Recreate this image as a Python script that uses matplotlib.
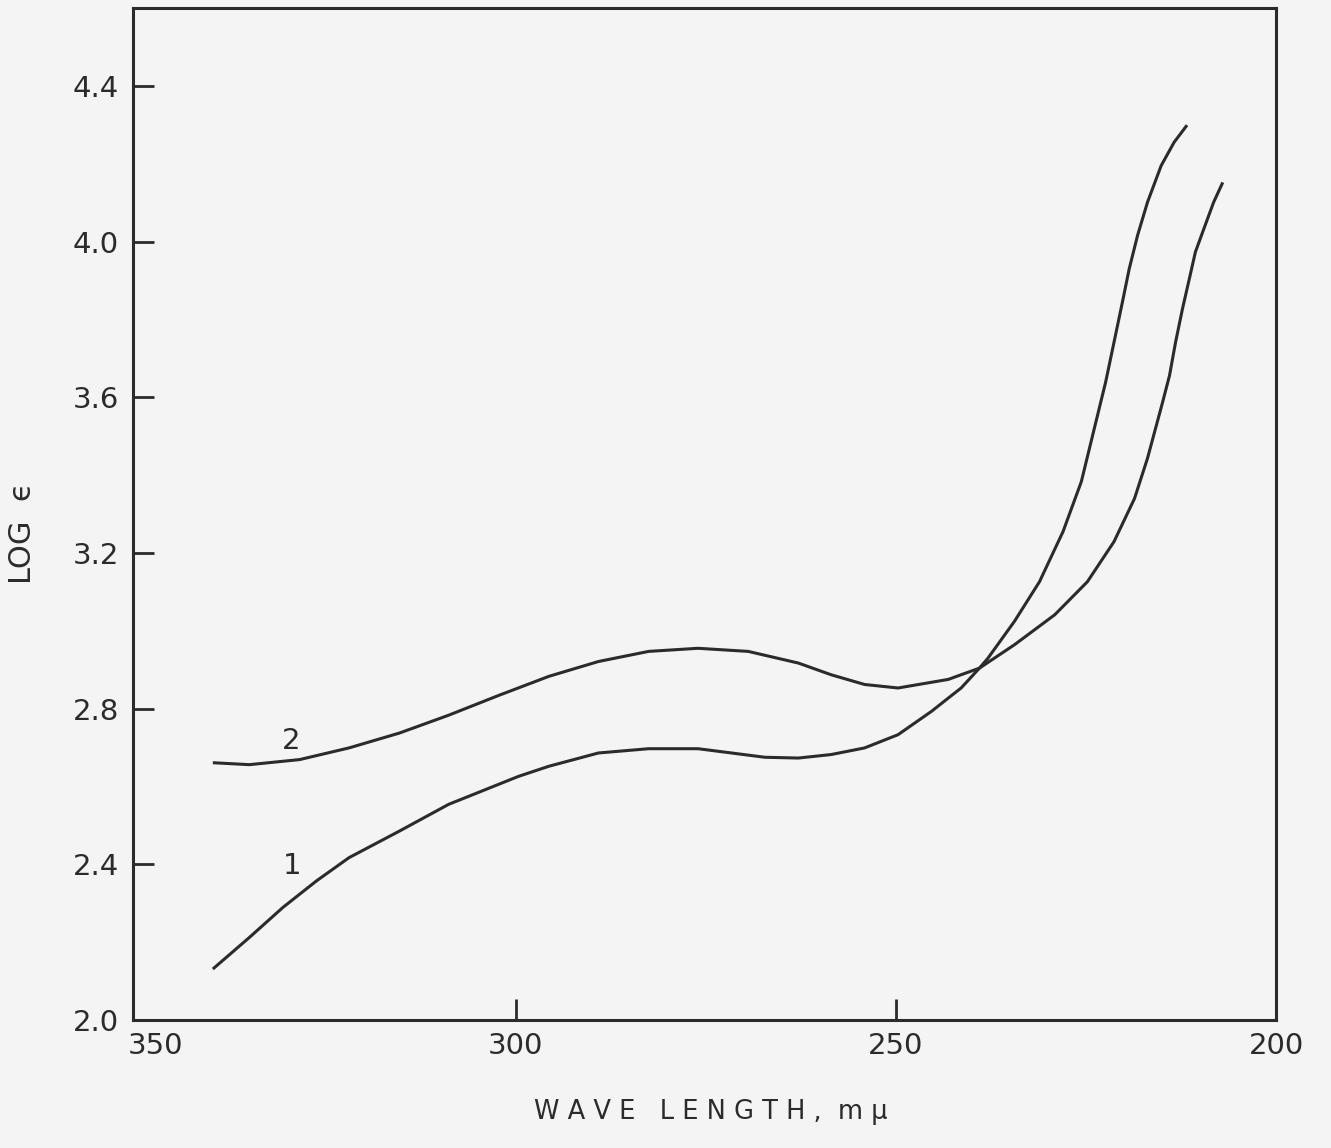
import numpy as np
import matplotlib
matplotlib.use("Agg")
import matplotlib.pyplot as plt
import matplotlib.transforms as mtransforms

# curve 1 : wave length (m mu) / log epsilon
wl_1 = [339.8, 335.0, 330.6, 326.2, 321.9, 315.3, 308.8, 299.6, 295.6, 289.1,
        282.5, 276.0, 271.6, 267.2, 262.8, 258.5, 254.1, 249.7, 245.3, 243.1,
        241.4, 239.0, 237.9, 234.4, 231.1, 228.0, 225.6, 224.0, 222.4, 221.1,
        220.2, 219.3, 218.2, 216.9, 215.1, 213.4, 211.7]
loge_1 = [2.131, 2.212, 2.289, 2.357, 2.417, 2.485, 2.554, 2.626, 2.652, 2.686,
          2.697, 2.697, 2.686, 2.675, 2.673, 2.682, 2.699, 2.733, 2.793, 2.827,
          2.853, 2.904, 2.929, 3.024, 3.126, 3.255, 3.383, 3.511, 3.639, 3.760,
          3.844, 3.930, 4.016, 4.101, 4.195, 4.255, 4.299]

# curve 2
wl_2 = [339.8, 335.0, 328.4, 321.9, 315.3, 308.8, 302.2, 295.6, 289.1, 282.5,
        276.0, 269.4, 262.8, 258.5, 254.1, 249.7, 243.1, 239.0, 234.4, 229.1,
        224.8, 221.3, 218.6, 216.9, 214.9, 214.0, 213.2, 212.3, 211.4, 210.6,
        209.5, 208.2, 207.0]
loge_2 = [2.661, 2.656, 2.669, 2.699, 2.737, 2.783, 2.834, 2.883, 2.921, 2.947,
          2.955, 2.947, 2.917, 2.887, 2.862, 2.853, 2.875, 2.904, 2.964, 3.041,
          3.126, 3.229, 3.340, 3.443, 3.588, 3.656, 3.742, 3.827, 3.904, 3.973,
          4.032, 4.101, 4.152]

xticks = [350, 300, 250, 200]
yticks = [2.0, 2.4, 2.8, 3.2, 3.6, 4.0, 4.4]

ink = "#2b2b2b"
paper = "#f4f4f4"

fig = plt.figure(figsize=(13.31, 11.48), dpi=100, facecolor=paper)
ax = fig.add_axes([133/1331, 1 - 1020/1148, (1276-133)/1331, (1020-8)/1148])
ax.set_facecolor(paper)

ax.plot(wl_1, loge_1, color=ink, lw=2.2, solid_capstyle="butt", solid_joinstyle="round")
ax.plot(wl_2, loge_2, color=ink, lw=2.2, solid_capstyle="butt", solid_joinstyle="round")

ax.set_xlim(350.3, 200.3)
ax.set_ylim(2.0, 4.6)

for s in ax.spines.values():
    s.set_linewidth(2.2)
    s.set_color(ink)

ax.set_xticks(xticks)
ax.set_xticklabels([str(v) for v in xticks])
ax.set_yticks(yticks)
ax.set_yticklabels(["%.1f" % v for v in yticks])
ax.tick_params(axis="both", direction="in", length=15, width=2, color=ink,
               labelcolor=ink, labelsize=21)
ax.tick_params(axis="y", pad=10)
ax.tick_params(axis="x", pad=9)

# end ticks of the x axis fall on the frame, no mark there
xt = ax.xaxis.get_major_ticks()
xt[0].tick1line.set_visible(False)
xt[-1].tick1line.set_visible(False)

# "350" sits a bit right of the corner in the original
lbl = ax.get_xticklabels()[0]
lbl.set_transform(lbl.get_transform() +
                  mtransforms.ScaledTranslation(20/100, 0, fig.dpi_scale_trans))

ax.text(329.5, 2.716, "2", fontsize=21, color=ink, ha="center", va="center")
ax.text(329.4, 2.396, "1", fontsize=21, color=ink, ha="center", va="center")

fig.text(711/1331, 1 - 1112/1148, "W A V E   L E N G T H ,  m μ", fontsize=18.5,
         color=ink, ha="center", va="center")
fig.text(23/1331, 1 - 533/1148, "LOG  ϵ", fontsize=22, color=ink,
         ha="center", va="center", rotation=90)

plt.savefig("out.png", dpi=100, facecolor=paper)
